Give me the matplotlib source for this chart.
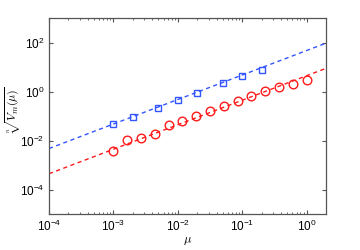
import matplotlib
matplotlib.use("Agg")
import matplotlib.pyplot as plt
from matplotlib.ticker import LogLocator, NullLocator, NullFormatter

# red circles
mu_red = [0.001, 0.00164, 0.00268, 0.00439, 0.0072, 0.0118, 0.0193, 0.0316,
          0.0518, 0.0848, 0.139, 0.228, 0.373, 0.611, 1.0]
v_red = [0.0036, 0.0101, 0.0126, 0.018, 0.041, 0.062, 0.096, 0.165,
         0.25, 0.41, 0.66, 1.05, 1.5, 2.1, 3.0]

# blue squares
mu_blue = [0.001, 0.002, 0.005, 0.01, 0.02, 0.05, 0.1, 0.2]
v_blue = [0.045, 0.088, 0.22, 0.45, 0.91, 2.2, 4.3, 7.9]

# fitted lines (y = c * mu)
mu_fit = [1e-4, 2.0]
fit_red = [4.4e-4, 8.8]
fit_blue = [4.7e-3, 94.0]

red = "#ff1a1a"
blue = "#3355ff"

plt.rcParams["font.family"] = ["Liberation Sans", "DejaVu Sans"]
plt.rcParams["mathtext.fontset"] = "cm"

fig = plt.figure(figsize=(3.6, 2.5), dpi=100)
ax = fig.add_axes([49 / 360, 1 - 214 / 250, 277 / 360, 196 / 250])

ax.plot(mu_fit, fit_blue, ls=(0, (3, 2.5)), color=blue, lw=1)
ax.plot(mu_fit, fit_red, ls=(0, (3, 2.5)), color=red, lw=1)
ax.plot(mu_blue, v_blue, ls="none", marker="s", ms=4.5, mfc="none",
        mec=blue, mew=1)
ax.plot(mu_red, v_red, ls="none", marker="o", ms=6.2, mfc="none",
        mec=red, mew=1)

ax.set_xscale("log")
ax.set_yscale("log")
ax.set_xlim(1e-4, 2)
ax.set_ylim(1e-5, 1e3)

ax.xaxis.set_major_locator(LogLocator(base=10, numticks=10))
ax.xaxis.set_minor_locator(LogLocator(base=10, subs=range(2, 10), numticks=50))
ax.xaxis.set_minor_formatter(NullFormatter())
ax.set_yticks([1e-4, 1e-2, 1e0, 1e2])
ax.yaxis.set_minor_locator(NullLocator())

ax.tick_params(which="both", direction="in", top=True, right=True,
               labelsize=8.5, color="#555555")
ax.tick_params(which="major", length=3)
ax.tick_params(which="minor", length=1.5)
for s in ax.spines.values():
    s.set_color("#555555")
    s.set_linewidth(0.9)

ax.set_xlabel(r"$\mu$", fontsize=9, labelpad=1)
ax.set_ylabel(r"$\sqrt[n]{V_m(\mu)}$", fontsize=8.5)
ax.yaxis.set_label_coords(-0.095, 0.53)

fig.savefig("out.png", dpi=100)
